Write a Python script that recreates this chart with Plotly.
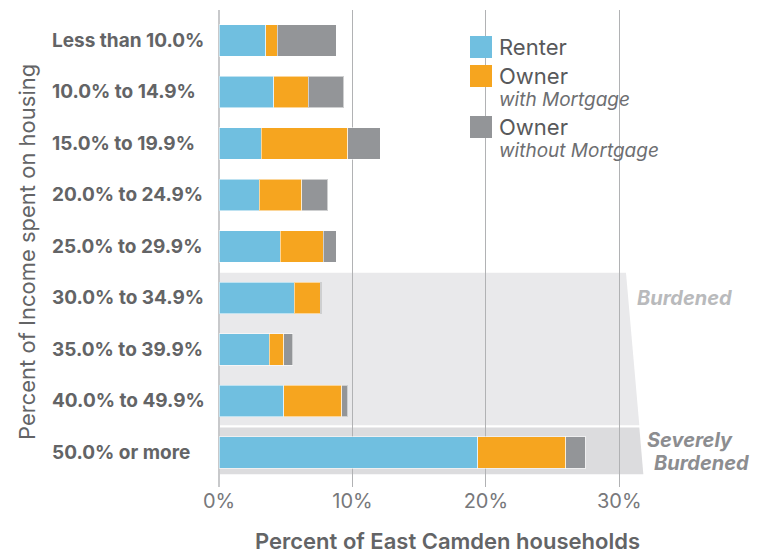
import plotly.graph_objects as go

categories = ["Less than 10.0%", "10.0% to 14.9%", "15.0% to 19.9%", "20.0% to 24.9%",
              "25.0% to 29.9%", "30.0% to 34.9%", "35.0% to 39.9%", "40.0% to 49.9%",
              "50.0% or more"]
renter = [3.5, 4.1, 3.15, 3.0, 4.6, 5.65, 3.75, 4.85, 19.4]
owner_mortgage = [0.85, 2.6, 6.5, 3.2, 3.2, 1.95, 1.1, 4.35, 6.6]
owner_no_mortgage = [4.45, 2.65, 2.45, 1.95, 1.0, 0.1, 0.68, 0.45, 1.45]
x_ticks = [0, 10, 20, 30]
x_ticklabels = ["0%", "10%", "20%", "30%"]

BLUE = "#70bfe0"
ORANGE = "#f6a51f"
GRAY = "#939598"
TEXT = "#636466"

# the page places the figure 8px from the window's top-left corner
OFF = 8
W, H = 764 - OFF, 553 - OFF
L, R, T, B = 219, 646, 10, 487   # plot area in window pixels
FONT = "Inter"


def pxx(p):
    return (p - L) / (R - L)


def pxy(p):
    return 1 - (p - T) / (B - T)


fig = go.Figure()
for name, vals, col in [("Renter", renter, BLUE),
                        ("Owner with Mortgage", owner_mortgage, ORANGE),
                        ("Owner without Mortgage", owner_no_mortgage, GRAY)]:
    fig.add_trace(go.Bar(
        y=categories, x=vals, name=name, orientation="h",
        marker=dict(color=col, line=dict(color="rgba(255,255,255,0.55)", width=1)),
        showlegend=False, hoverinfo="x+name",
    ))

shapes = [
    dict(type="path", xref="x", yref="y", layer="below",
         path="M 0 4.51 L 30.5 4.51 L 31.5 7.47 L 0 7.47 Z",
         fillcolor="#e9e9eb", line=dict(width=0)),
    dict(type="path", xref="x", yref="y", layer="below",
         path="M 0 7.515 L 31.5 7.515 L 31.8 8.423 L 0 8.423 Z",
         fillcolor="#dcdcde", line=dict(width=0)),
]

legend_items = [
    (BLUE, 36, "Renter", None, 47),
    (ORANGE, 65, "Owner", "with Mortgage", 76),
    (GRAY, 116, "Owner", "without Mortgage", 127),
]
annotations = []
for col, top, main, sub, ty in legend_items:
    shapes.append(dict(type="rect", xref="paper", yref="paper",
                       x0=pxx(470), x1=pxx(492), y0=pxy(top + 22), y1=pxy(top),
                       fillcolor=col, line=dict(width=0)))
    annotations.append(dict(xref="paper", yref="paper", x=pxx(497), y=pxy(ty),
                            text=main, showarrow=False, xanchor="left", yanchor="middle",
                            font=dict(family=FONT, size=22, color="#58595b")))
    if sub:
        annotations.append(dict(xref="paper", yref="paper", x=pxx(497), y=pxy(ty + 24),
                                text=sub, showarrow=False, xanchor="left", yanchor="middle",
                                font=dict(family=FONT, size=19, color="#6d6e71", style="italic")))

# category labels, left-aligned as in the reference
for cat in categories:
    annotations.append(dict(xref="paper", yref="y", x=pxx(50), y=cat, text=cat,
                            showarrow=False, xanchor="left", yanchor="middle",
                            font=dict(family=FONT, size=19, color=TEXT, weight="bold")))

annotations += [
    dict(xref="paper", yref="paper", x=pxx(684), y=pxy(298), text="Burdened",
         showarrow=False, xanchor="center", yanchor="middle",
         font=dict(family=FONT, size=20, color="#b9babc", weight="bold", style="italic")),
    dict(xref="paper", yref="paper", x=pxx(690), y=pxy(440), text="Severely",
         showarrow=False, xanchor="center", yanchor="middle",
         font=dict(family=FONT, size=20, color="#8c8d90", weight="bold", style="italic")),
    dict(xref="paper", yref="paper", x=pxx(701), y=pxy(463), text="Burdened",
         showarrow=False, xanchor="center", yanchor="middle",
         font=dict(family=FONT, size=20, color="#8c8d90", weight="bold", style="italic")),
    dict(xref="paper", yref="paper", x=pxx(27), y=pxy(252), text="Percent of Income spent on housing",
         showarrow=False, xanchor="center", yanchor="middle", textangle=-90,
         font=dict(family=FONT, size=22, color=TEXT)),
    dict(xref="paper", yref="paper", x=pxx(447), y=pxy(541), text="Percent of East Camden households",
         showarrow=False, xanchor="center", yanchor="middle",
         font=dict(family=FONT, size=22, color=TEXT, weight=600)),
]

fig.update_layout(
    width=W, height=H, barmode="stack", bargap=0.38,
    margin=dict(l=L - OFF, r=764 - R, t=T - OFF, b=553 - B, pad=0),
    paper_bgcolor="white", plot_bgcolor="white",
    shapes=shapes, annotations=annotations,
    xaxis=dict(range=[0, 32], tickvals=x_ticks, ticktext=x_ticklabels,
               showgrid=True, gridcolor="#b1b2b4", gridwidth=1,
               zeroline=True, zerolinecolor="#c8c9cb", zerolinewidth=2,
               showline=False, ticks="", fixedrange=True,
               tickfont=dict(family=FONT, size=20, color="#77787b")),
    yaxis=dict(type="category", categoryorder="array", categoryarray=categories,
               range=[8.67, -0.592], showgrid=False, zeroline=False, showline=False,
               ticks="", showticklabels=False, fixedrange=True),
)

fig.write_html("out.html")
